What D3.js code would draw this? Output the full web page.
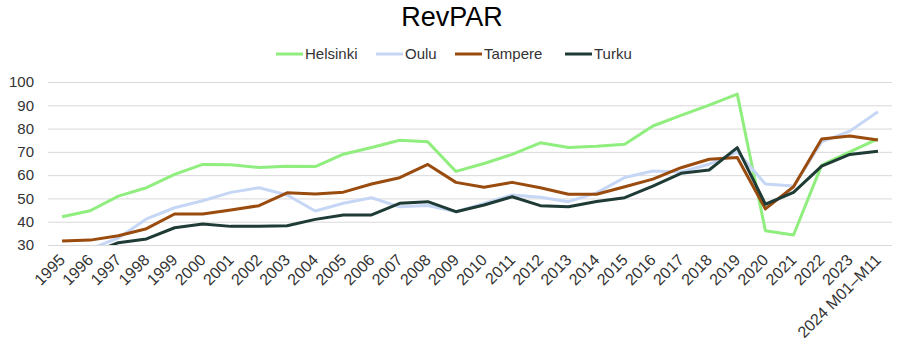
<!DOCTYPE html>
<html lang="en">
<head>
    <meta charset="UTF-8">
    <title>RevPAR</title>
    <script src="https://d3js.org/d3.v7.min.js"></script>
    <style>
        body {
            margin: 0;
            padding: 0;
            background: #fff;
            font-family: "Liberation Sans", Arial, sans-serif;
        }
        svg text {
            fill: #333;
        }
    </style>
</head>
<body>
    <svg width="907" height="352"></svg>

    <script>
        const years = ["1995", "1996", "1997", "1998", "1999", "2000", "2001", "2002", "2003", "2004",
            "2005", "2006", "2007", "2008", "2009", "2010", "2011", "2012", "2013", "2014",
            "2015", "2016", "2017", "2018", "2019", "2020", "2021", "2022", "2023", "2024 M01\u2013M11"];

        const helsinki = [42.1, 44.7, 51.0, 54.6, 60.3, 64.6, 64.5, 63.3, 63.8, 63.7,
            69.0, 71.9, 75.0, 74.3, 61.6, 65.0, 68.9, 73.9, 71.9, 72.4,
            73.3, 81.1, 85.7, 90.1, 94.8, 36.1, 34.3, 64.3, 70.0, 75.6];
        const oulu = [26.5, 28.3, 33.0, 41.2, 46.0, 49.0, 52.6, 54.6, 51.5, 44.6,
            47.9, 50.3, 46.4, 47.0, 44.3, 47.9, 51.5, 50.5, 48.6, 52.4,
            59.0, 61.8, 61.4, 64.7, 70.0, 56.2, 55.3, 74.3, 78.9, 87.2];
        const tampere = [31.7, 32.1, 34.0, 37.0, 43.3, 43.3, 45.0, 46.9, 52.4, 51.9,
            52.7, 56.2, 58.9, 64.6, 56.9, 54.8, 56.9, 54.6, 51.8, 51.8,
            55.0, 58.3, 63.2, 66.8, 67.6, 45.5, 55.0, 75.5, 76.8, 75.1];
        const turku = [25.0, 26.3, 31.0, 32.6, 37.4, 39.0, 38.0, 38.0, 38.3, 41.0,
            42.9, 42.9, 47.9, 48.6, 44.3, 47.2, 50.7, 46.9, 46.4, 48.7,
            50.3, 55.3, 60.8, 62.2, 71.8, 47.5, 52.6, 63.9, 68.9, 70.3];

        const yTicks = [30, 40, 50, 60, 70, 80, 90, 100];

        const seriesNames = ["Helsinki", "Oulu", "Tampere", "Turku"];
        const seriesValues = [helsinki, oulu, tampere, turku];
        const seriesColors = ["#8fee7e", "#c6d6f5", "#9a4b0e", "#1f3b35"];

        const margin = { top: 82, right: 15, bottom: 107, left: 48 };
        const width = 907;
        const height = 352;

        const svg = d3.select("svg");

        const x = d3.scaleBand()
            .domain(years)
            .range([margin.left, width - margin.right]);

        const y = d3.scaleLinear()
            .domain([30, 100])
            .range([height - margin.bottom, margin.top]);

        // title
        svg.append("text")
            .attr("x", 452)
            .attr("y", 26)
            .attr("text-anchor", "middle")
            .attr("font-size", "27px")
            .style("fill", "#000")
            .text("RevPAR");

        // gridlines + y labels
        const yAxis = svg.append("g")
            .attr("transform", `translate(${margin.left},0)`)
            .call(d3.axisLeft(y).tickValues(yTicks)
                .tickSize(-(width - margin.left - margin.right))
                .tickPadding(14));
        yAxis.select(".domain").remove();
        yAxis.selectAll(".tick line").attr("stroke", "#d9d9d9");
        yAxis.selectAll(".tick text")
            .attr("font-size", "15px")
            .attr("font-family", "Liberation Sans, Arial, sans-serif");

        // x labels
        const xAxis = svg.append("g")
            .attr("transform", `translate(0,${height - margin.bottom})`)
            .call(d3.axisBottom(x).tickSize(0).tickPadding(0));
        xAxis.select(".domain").remove();
        xAxis.selectAll(".tick text")
            .attr("font-size", "16px")
            .attr("font-family", "Liberation Sans, Arial, sans-serif")
            .attr("text-anchor", "end")
            .attr("dy", null)
            .attr("y", 0)
            .attr("transform", "translate(4,16) rotate(-45)");

        // clip to plot area
        svg.append("clipPath")
            .attr("id", "plot-clip")
            .append("rect")
            .attr("x", margin.left)
            .attr("y", margin.top - 5)
            .attr("width", width - margin.left - margin.right)
            .attr("height", height - margin.top - margin.bottom + 5);

        const line = d3.line()
            .x((d, i) => x(years[i]) + x.bandwidth() / 2)
            .y(d => y(d));

        const lines = svg.append("g").attr("clip-path", "url(#plot-clip)");
        seriesValues.forEach((vals, k) => {
            lines.append("path")
                .datum(vals)
                .attr("fill", "none")
                .attr("stroke", seriesColors[k])
                .attr("stroke-width", 3)
                .attr("stroke-linejoin", "round")
                .attr("d", line);
        });

        // legend
        const legendX = [276, 376, 455, 565];
        const legend = svg.append("g");
        seriesNames.forEach((name, k) => {
            legend.append("line")
                .attr("x1", legendX[k])
                .attr("x2", legendX[k] + 27)
                .attr("y1", 54)
                .attr("y2", 54)
                .attr("stroke", seriesColors[k])
                .attr("stroke-width", 3);
            legend.append("text")
                .attr("x", legendX[k] + 29)
                .attr("y", 59)
                .attr("font-size", "15px")
                .text(name);
        });
    </script>
</body>
</html>
